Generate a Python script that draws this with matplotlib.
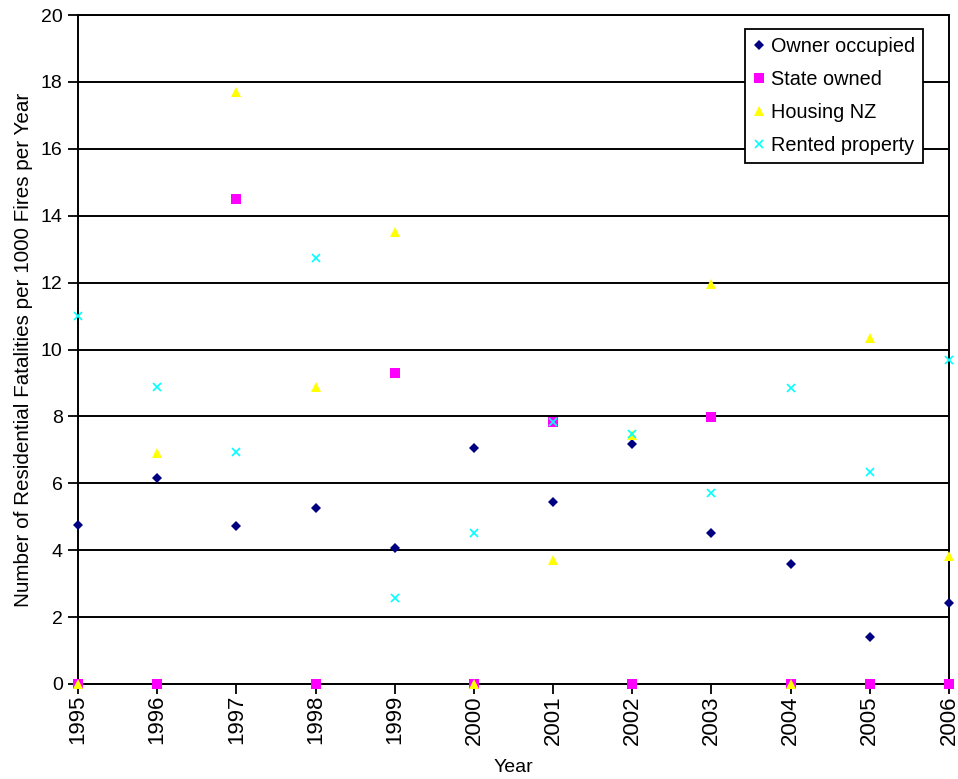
import matplotlib
matplotlib.use("Agg")
import matplotlib.pyplot as plt
import numpy as np

plt.rcParams['font.family'] = ['Liberation Sans', 'DejaVu Sans']

years = [1995, 1996, 1997, 1998, 1999, 2000, 2001, 2002, 2003, 2004, 2005, 2006]
owner_occupied = [4.75, 6.16, 4.73, 5.25, 4.07, 7.05, 5.44, 7.17, 4.50, 3.60, 1.40, 2.42]
state_owned = [0, 0, 14.49, 0, 9.31, 0, 7.84, 0, 7.99, 0, 0, 0]
housing_nz = [0, 6.90, 17.69, 8.87, 13.50, 0, 3.71, 7.44, 11.95, 0, 10.33, 3.83]
rented_property = [11.01, 8.89, 6.94, 12.74, 2.57, 4.50, 7.82, 7.47, 5.72, 8.84, 6.33, 9.69]

fig = plt.figure(figsize=(9.58, 7.79), dpi=100, facecolor='w')
ax = fig.add_axes([78/958, 1-684/779, (949-78)/958, (684-15)/779])

ax.plot(years, owner_occupied, 'D', color='#000080', markersize=5.5, markeredgewidth=0,
        clip_on=False, zorder=3, label='Owner occupied')
ax.plot(years, state_owned, 's', color='#FF00FF', markersize=6.5, markeredgewidth=0,
        clip_on=False, zorder=3, label='State owned')
ax.plot(years, housing_nz, '^', color='#FFFF00', markersize=7.5, markeredgewidth=0,
        clip_on=False, zorder=3, label='Housing NZ')
ax.plot(years, rented_property, 'x', color='#00FFFF', markersize=5.5, markeredgewidth=1.2,
        clip_on=False, zorder=3, label='Rented property')

ax.set_xlim(1995, 2006)
ax.set_ylim(0, 20)
ax.set_xticks(years)
ax.set_xticklabels([str(y) for y in years], rotation=90, fontsize=16)
ax.set_yticks(np.arange(0, 21, 2))
ax.tick_params(axis='y', labelsize=14, direction='out', length=7, width=1.3, pad=4)
ax.tick_params(axis='x', direction='out', length=7, width=1.3, pad=1)
ax.yaxis.grid(True, color='black', linewidth=1.4)
ax.set_axisbelow(True)
for s in ['top', 'bottom', 'left', 'right']:
    ax.spines[s].set_linewidth(1.4)
    ax.spines[s].set_color('black')

ax.set_xlabel('Year', fontsize=14, labelpad=10)
ax.set_ylabel('Number of Residential Fatalities per 1000 Fires per Year', fontsize=14.9, labelpad=6)

leg = ax.legend(loc='upper right', bbox_to_anchor=(923/958, 1-29/779), bbox_transform=fig.transFigure,
                borderaxespad=0, fontsize=14.3, frameon=True, fancybox=False, framealpha=1,
                edgecolor='black', handlelength=0.6, handletextpad=0.3, labelspacing=0.7,
                borderpad=0.4)
leg.get_frame().set_linewidth(1.3)
leg.set_zorder(5)

fig.savefig('out.png', dpi=100)
